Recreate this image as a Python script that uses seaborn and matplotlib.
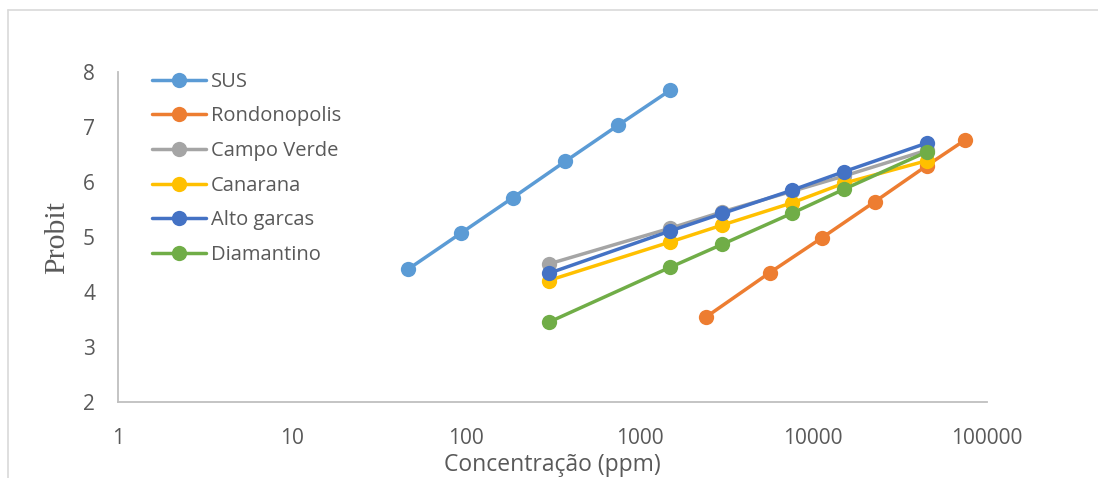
import pandas as pd
import seaborn as sns
import matplotlib.pyplot as plt
from matplotlib.lines import Line2D

sns.set_style("white")
plt.rcParams["font.family"] = ["Open Sans", "DejaVu Sans"]

SERIES = ["SUS", "Rondonopolis", "Campo Verde", "Canarana", "Alto garcas", "Diamantino"]
COLORS = ["#5B9BD5", "#ED7D31", "#A5A5A5", "#FFC000", "#4472C4", "#70AD47"]

SUS_X = [46.875, 93.75, 187.5, 375, 750, 1500]
SUS_Y = [4.42, 5.07, 5.72, 6.38, 7.03, 7.67]

ROND_X = [2400, 5600, 11250, 22500, 45000, 75000]
ROND_Y = [3.54, 4.35, 4.99, 5.64, 6.30, 6.77]

POP_X = [300, 1500, 3000, 7500, 15000, 45000]
CAMPO_Y = [4.51, 5.16, 5.46, 5.83, 6.11, 6.58]
CANARANA_Y = [4.21, 4.91, 5.22, 5.62, 5.98, 6.39]
ALTO_Y = [4.34, 5.11, 5.43, 5.85, 6.19, 6.71]
DIAM_Y = [3.45, 4.45, 4.87, 5.43, 5.87, 6.55]


def build_frame() -> pd.DataFrame:
    xs = [SUS_X, ROND_X, POP_X, POP_X, POP_X, POP_X]
    ys = [SUS_Y, ROND_Y, CAMPO_Y, CANARANA_Y, ALTO_Y, DIAM_Y]
    parts = []
    for name, x, y in zip(SERIES, xs, ys):
        parts.append(pd.DataFrame({"conc": x, "probit": y, "serie": name}))
    return pd.concat(parts, ignore_index=True)


def main():
    df = build_frame()

    fig = plt.figure(figsize=(10.98, 4.78), dpi=100)
    ax = fig.add_axes([0.1075, 0.159, 0.7915, 0.690])

    sns.lineplot(
        data=df, x="conc", y="probit", hue="serie", hue_order=SERIES,
        palette=COLORS, marker="o", markersize=11, markeredgewidth=0,
        linewidth=2.5, sort=False, estimator=None, ax=ax,
    )

    ax.set_xscale("log")
    ax.set_xlim(1, 100000)
    ax.set_ylim(2, 8)
    ax.set_xticks([1, 10, 100, 1000, 10000, 100000])
    ax.set_xticklabels(["1", "10", "100", "1000", "10000", "100000"])
    ax.minorticks_off()
    ax.set_yticks(range(2, 9))

    grey = "#BFBFBF"
    for side in ["top", "right"]:
        ax.spines[side].set_visible(False)
    for side in ["left", "bottom"]:
        ax.spines[side].set_color(grey)
        ax.spines[side].set_linewidth(1.3)
    ax.tick_params(axis="both", colors=grey, length=6.5, width=1.3,
                   labelcolor="#595959", labelsize=15)
    ax.tick_params(axis="x", pad=12)
    ax.tick_params(axis="y", pad=10)

    ax.set_xlabel("Concentração (ppm)", fontsize=16.5, color="#595959", labelpad=3)
    ax.set_ylabel("Probit", fontsize=21.5, color="#595959",
                  family=["Liberation Serif", "DejaVu Serif"], labelpad=9)

    leg = ax.legend(loc="upper left", bbox_to_anchor=(0.03, 1.026), frameon=False,
                    fontsize=14.5, handlelength=2.65, handletextpad=0.25,
                    labelspacing=0.73, borderaxespad=0)
    for text in leg.get_texts():
        text.set_color("#595959")

    # outer chart frame
    fig.add_artist(Line2D([8 / 1098, 1], [1 - 10 / 478, 1 - 10 / 478],
                          color="#D9D9D9", linewidth=1.2))
    fig.add_artist(Line2D([8 / 1098, 8 / 1098], [0, 1 - 10 / 478],
                          color="#D9D9D9", linewidth=1.2))

    fig.savefig("out.png", dpi=100)


if __name__ == "__main__":
    main()
